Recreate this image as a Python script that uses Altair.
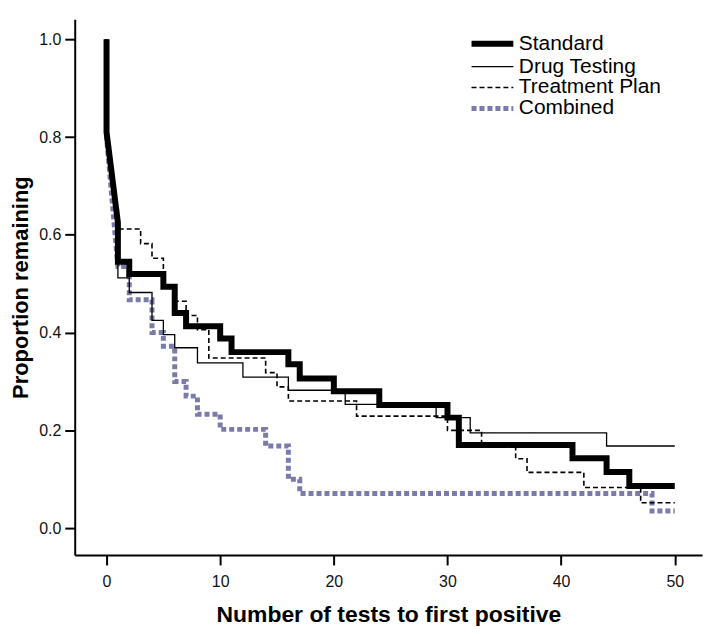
import altair as alt
import pandas as pd

groups = ["Standard", "Drug Testing", "Treatment Plan", "Combined"]

std_x = [0, 0, 1, 1, 2, 2, 5, 5, 6, 6, 7, 7, 10, 10, 11, 11, 16, 16, 17, 17,
         20, 20, 24, 24, 30, 30, 31, 31, 41, 41, 44, 44, 46, 46, 50]
std_y = [1.0, 0.81, 0.625, 0.545, 0.545, 0.52, 0.52, 0.494, 0.494, 0.44, 0.44,
         0.413, 0.413, 0.388, 0.388, 0.36, 0.36, 0.335, 0.335, 0.306, 0.306,
         0.28, 0.28, 0.252, 0.252, 0.226, 0.226, 0.17, 0.17, 0.143, 0.143,
         0.115, 0.115, 0.086, 0.086]

drug_x = [0, 0, 1, 1, 2, 2, 4, 4, 5, 5, 6, 6, 8, 8, 12, 12, 16, 16, 21, 21,
          29, 29, 32, 32, 44, 44, 50]
drug_y = [1.0, 0.81, 0.625, 0.512, 0.512, 0.482, 0.482, 0.425, 0.425, 0.396,
          0.396, 0.369, 0.369, 0.338, 0.338, 0.309, 0.309, 0.282, 0.282, 0.253,
          0.253, 0.226, 0.226, 0.195, 0.195, 0.168, 0.168]

plan_x = [0, 0, 1, 1, 3, 3, 4, 4, 5, 5, 6, 6, 7, 7, 8, 8, 9, 9, 14, 14, 15, 15,
          16, 16, 22, 22, 30, 30, 33, 33, 36, 36, 37, 37, 42, 42, 47, 47, 50]
plan_y = [1.0, 0.81, 0.625, 0.612, 0.612, 0.582, 0.582, 0.552, 0.552, 0.494,
          0.494, 0.464, 0.464, 0.435, 0.435, 0.406, 0.406, 0.348, 0.348, 0.318,
          0.318, 0.289, 0.289, 0.26, 0.26, 0.229, 0.229, 0.2, 0.2, 0.172, 0.172,
          0.142, 0.142, 0.114, 0.114, 0.083, 0.083, 0.052, 0.052]

comb_x = [0, 0, 1, 2, 2, 4, 4, 5, 5, 6, 6, 7, 7, 8, 8, 10, 10, 14, 14, 16, 16,
          17, 17, 48, 48, 50]
comb_y = [1.0, 0.80, 0.535, 0.535, 0.467, 0.467, 0.4, 0.4, 0.372, 0.372, 0.3,
          0.3, 0.27, 0.27, 0.233, 0.233, 0.202, 0.202, 0.168, 0.168, 0.1, 0.1,
          0.071, 0.071, 0.035, 0.035]

x_ticks = [0, 10, 20, 30, 40, 50]
y_ticks = [0.0, 0.2, 0.4, 0.6, 0.8, 1.0]

rows = []
for g, xs, ys in [("Combined", comb_x, comb_y), ("Treatment Plan", plan_x, plan_y),
                  ("Drug Testing", drug_x, drug_y), ("Standard", std_x, std_y)]:
    for i, (a, b) in enumerate(zip(xs, ys)):
        rows.append({"group": g, "tests": a, "prop": b, "idx": i})
df = pd.DataFrame(rows)

leg = alt.Legend(
    title=None,
    orient="none",
    legendX=409,
    legendY=14,
    symbolType="M-3,0H3",
    symbolSize=196,
    labelFontSize=21,
    labelFont="Liberation Sans",
    labelColor="black",
    labelOffset=16,
    labelLimit=300,
    rowPadding=-1.5,
    padding=0,
)

chart = alt.Chart(df).mark_line(strokeCap="butt", strokeJoin="miter").encode(
    x=alt.X("tests:Q",
            scale=alt.Scale(domain=[-2.8, 52.4], nice=False, zero=False),
            axis=alt.Axis(values=x_ticks, title="Number of tests to first positive",
                          labelPadding=9, titlePadding=14)),
    y=alt.Y("prop:Q",
            scale=alt.Scale(domain=[-0.055, 1.041], nice=False, zero=False),
            axis=alt.Axis(values=y_ticks, format=".1f", title="Proportion remaining",
                          labelPadding=4, titlePadding=6, titleFontSize=22)),
    color=alt.Color("group:N",
                    scale=alt.Scale(domain=groups,
                                    range=["#000000", "#000000", "#000000", "#7b7bab"]),
                    legend=leg),
    strokeDash=alt.StrokeDash("group:N",
                              scale=alt.Scale(domain=groups,
                                              range=[[1, 0], [1, 0], [5, 3], [5, 3]]),
                              legend=leg),
    strokeWidth=alt.StrokeWidth("group:N",
                                scale=alt.Scale(type="ordinal", domain=groups,
                                                range=[6, 1.3, 1.6, 5]),
                                legend=leg),
    order="idx:Q",
).properties(
    width=630,
    height=538,
    autosize=alt.AutoSizeParams(type="none"),
    padding={"left": 67, "top": 10, "right": 10, "bottom": 70},
).configure_axis(
    domainColor="black",
    domainWidth=2,
    tickColor="black",
    tickWidth=2,
    tickSize=10,
    labelFont="Liberation Sans",
    labelFontSize=16,
    labelColor="#111111",
    titleFont="Liberation Sans",
    titleFontSize=23,
    titleFontWeight="bold",
    titleColor="black",
    grid=False,
).configure_view(stroke=None)

chart.save("out.html", embed_options={"renderer": "svg", "actions": False})
